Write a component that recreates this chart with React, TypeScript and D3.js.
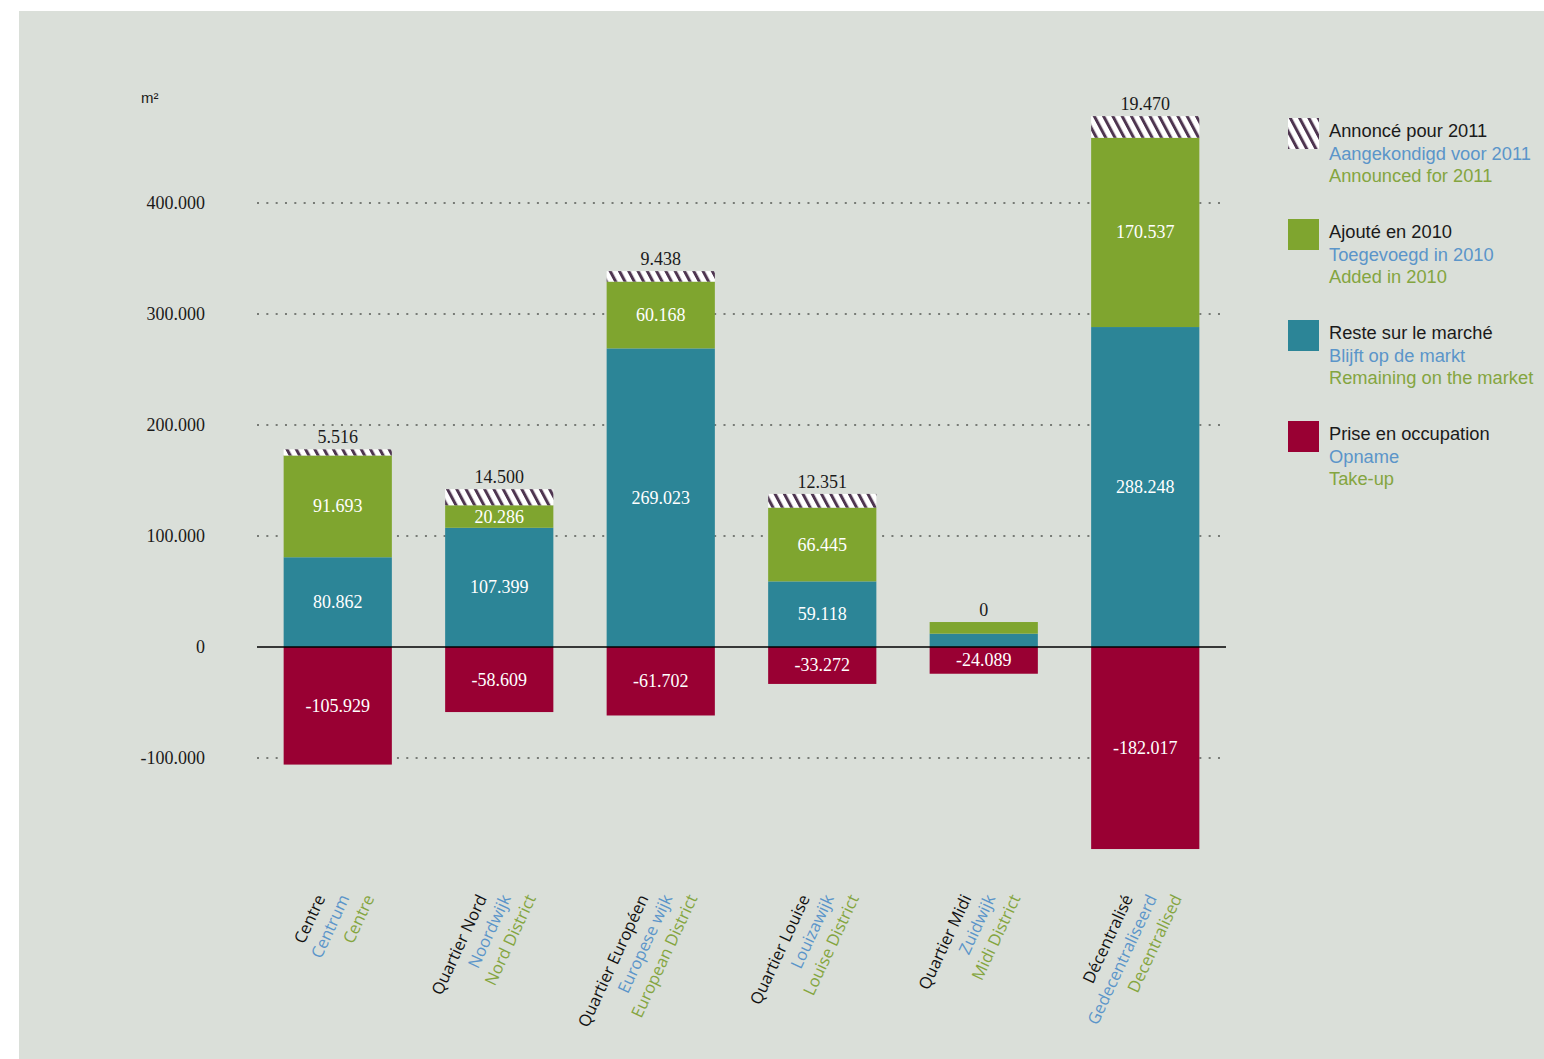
import React, { useEffect, useRef } from 'react';
import * as d3 from 'd3';

// districts (fr / nl / en)
const catFr = ['Centre', 'Quartier Nord', 'Quartier Européen', 'Quartier Louise', 'Quartier Midi', 'Décentralisé'];
const catNl = ['Centrum', 'Noordwijk', 'Europese wijk', 'Louizawijk', 'Zuidwijk', 'Gedecentraliseerd'];
const catEn = ['Centre', 'Nord District', 'European District', 'Louise District', 'Midi District', 'Decentralised'];

// m² values per district
const remaining = [80862, 107399, 269023, 59118, 12000, 288248];
const added = [91693, 20286, 60168, 66445, 10500, 170537];
const announced = [5516, 14500, 9438, 12351, 0, 19470];
const takeUp = [-105929, -58609, -61702, -33272, -24089, -182017];

// which segments carry a value label (Midi's small ones don't)
const showRemaining = [true, true, true, true, false, true];
const showAdded = [true, true, true, true, false, true];

const yTicks = [-100000, 0, 100000, 200000, 300000, 400000];

const legendFr = ['Annoncé pour 2011', 'Ajouté en 2010', 'Reste sur le marché', 'Prise en occupation'];
const legendNl = ['Aangekondigd voor 2011', 'Toegevoegd in 2010', 'Blijft op de markt', 'Opname'];
const legendEn = ['Announced for 2011', 'Added in 2010', 'Remaining on the market', 'Take-up'];

const GREEN = '#7fa52f';
const TEAL = '#2c8597';
const RED = '#990033';
const HATCH = '#4e3550';
const TXT_BLUE = '#5b95c9';
const TXT_GREEN = '#84a540';
const BG = '#dadfd9';

const numFont = '"Liberation Serif", serif';
const catFont = '"Open Sans", sans-serif';
const legFont = '"Liberation Sans", Arial, sans-serif';

const fmt = (v: number) => {
  const s = Math.abs(v).toString();
  const withDots = s.replace(/\B(?=(\d{3})+(?!\d))/g, '.');
  return (v < 0 ? '-' : '') + withDots;
};

export default function App() {
  const svgRef = useRef<SVGSVGElement | null>(null);

  useEffect(() => {
    const svg = d3.select(svgRef.current);
    svg.selectAll('*').remove();

    const W = 1544;
    const H = 1059;

    // panel
    svg.append('rect').attr('x', 19).attr('y', 11).attr('width', W - 19).attr('height', H - 11).attr('fill', BG);

    const defs = svg.append('defs');
    const pat = defs.append('pattern')
      .attr('id', 'hatch')
      .attr('patternUnits', 'userSpaceOnUse')
      .attr('width', 8.2)
      .attr('height', 8.2)
      .attr('patternTransform', 'rotate(-28)');
    pat.append('rect').attr('width', 8.2).attr('height', 8.2).attr('fill', '#ffffff');
    pat.append('rect').attr('x', 0).attr('width', 3).attr('height', 8.2).attr('fill', HATCH);

    const x = d3.scaleBand<number>()
      .domain(d3.range(catFr.length))
      .range([257, 1226])
      .paddingInner(0.33)
      .paddingOuter(0.165);

    const y = d3.scaleLinear().domain([0, 400000]).range([647, 203]);

    // dotted gridlines
    const grid = svg.append('g');
    yTicks.filter(t => t !== 0).forEach(t => {
      grid.append('line')
        .attr('x1', 257).attr('x2', 1226)
        .attr('y1', y(t)).attr('y2', y(t))
        .attr('stroke', '#777b76')
        .attr('stroke-width', 2)
        .attr('stroke-dasharray', '2 7.33');
    });

    // y labels
    const yl = svg.append('g');
    yTicks.forEach(t => {
      yl.append('text')
        .attr('x', 205)
        .attr('y', y(t) + 6)
        .attr('text-anchor', 'end')
        .attr('font-family', numFont)
        .attr('font-size', 18)
        .attr('fill', '#1a1a1a')
        .text(fmt(t));
    });
    yl.append('text')
      .attr('x', 141).attr('y', 103)
      .attr('font-family', legFont)
      .attr('font-size', 15)
      .attr('fill', '#1a1a1a')
      .text('m²');

    // bars
    const bars = svg.append('g');
    const bw = x.bandwidth();
    catFr.forEach((_, i) => {
      const x0 = x(i) as number;
      const cx = x0 + bw / 2;
      const rTop = remaining[i];
      const aTop = rTop + added[i];
      const hTop = aTop + announced[i];

      bars.append('rect').attr('x', x0).attr('width', bw)
        .attr('y', y(0)).attr('height', y(takeUp[i]) - y(0)).attr('fill', RED);
      bars.append('rect').attr('x', x0).attr('width', bw)
        .attr('y', y(rTop)).attr('height', y(0) - y(rTop)).attr('fill', TEAL);
      bars.append('rect').attr('x', x0).attr('width', bw)
        .attr('y', y(aTop)).attr('height', y(rTop) - y(aTop)).attr('fill', GREEN);
      if (announced[i] > 0) {
        bars.append('rect').attr('x', x0).attr('width', bw)
          .attr('y', y(hTop)).attr('height', y(aTop) - y(hTop)).attr('fill', 'url(#hatch)');
      }

      const lbl = (yy: number, v: number, color: string) =>
        bars.append('text')
          .attr('x', cx).attr('y', yy)
          .attr('text-anchor', 'middle')
          .attr('dominant-baseline', 'central')
          .attr('font-family', numFont)
          .attr('font-size', 18)
          .attr('fill', color)
          .text(fmt(v));

      lbl((y(0) + y(takeUp[i])) / 2, takeUp[i], '#ffffff');
      if (showRemaining[i]) lbl((y(0) + y(rTop)) / 2, remaining[i], '#ffffff');
      if (showAdded[i]) lbl((y(rTop) + y(aTop)) / 2, added[i], '#ffffff');
      lbl(y(hTop) - 12, announced[i], '#1a1a1a');
    });

    // zero line
    svg.append('line')
      .attr('x1', 257).attr('x2', 1226)
      .attr('y1', y(0)).attr('y2', y(0))
      .attr('stroke', '#000').attr('stroke-width', 1.5);

    // category labels, rotated
    const cats = svg.append('g');
    const rows: [string[], string, number][] = [
      [catFr, '#111111', -12],
      [catNl, TXT_BLUE, 12],
      [catEn, TXT_GREEN, 37],
    ];
    catFr.forEach((_, i) => {
      const cx = (x(i) as number) + bw / 2;
      rows.forEach(([names, color, dx]) => {
        cats.append('text')
          .attr('transform', `translate(${cx + dx},${898}) rotate(-65)`)
          .attr('text-anchor', 'end')
          .attr('font-family', catFont)
          .attr('font-size', 16.5)
          .attr('fill', color)
          .text(names[i]);
      });
    });

    // legend
    const leg = svg.append('g');
    const swFill = ['url(#hatch)', GREEN, TEAL, RED];
    legendFr.forEach((t, i) => {
      const gy = 118 + i * 101;
      leg.append('rect').attr('x', 1288).attr('y', gy).attr('width', 31).attr('height', 31).attr('fill', swFill[i]);
      [[t, '#1a1a1a'], [legendNl[i], TXT_BLUE], [legendEn[i], TXT_GREEN]].forEach(([s, c], k) => {
        leg.append('text')
          .attr('x', 1329).attr('y', gy + 19 + k * 22.5)
          .attr('font-family', legFont)
          .attr('font-size', 18.3)
          .attr('fill', c)
          .text(s);
      });
    });
  }, []);

  return (
    <div style={{ position: 'absolute', left: 0, top: 0 }}>
      <svg ref={svgRef} width={1544} height={1059} style={{ display: 'block' }} />
    </div>
  );
}
